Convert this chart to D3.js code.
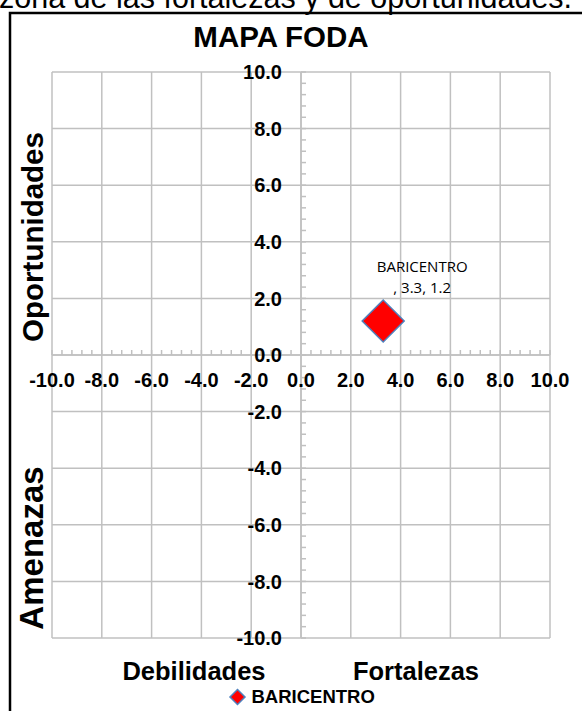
<!DOCTYPE html>
<html>
<head>
<meta charset="utf-8">
<script src="https://cdn.jsdelivr.net/npm/d3@7/dist/d3.min.js"></script>
<style>
  html, body { margin: 0; padding: 0; background: #fff; overflow: hidden; }
  svg { display: block; }
</style>
</head>
<body>
<svg id="chart" width="582" height="711"></svg>
<script>
// ---- data ----
const seriesNames = ["BARICENTRO"];
const xValues = [3.3];
const yValues = [1.2];
const xTickValues = [-10, -8, -6, -4, -2, 0, 2, 4, 6, 8, 10];
const yTickValues = [-10, -8, -6, -4, -2, 0, 2, 4, 6, 8, 10];
const minorStep = 0.4;
const chartTitle = "MAPA FODA";
const topText = "zona de las fortalezas y de  oportunidades.";
const quadrantLabels = ["Oportunidades", "Amenazas", "Debilidades", "Fortalezas"];

// ---- layout ----
const svg = d3.select("#chart");
const W = 582, H = 711;
const plot = { left: 52, right: 550, top: 72, bottom: 638 };
const x = d3.scaleLinear().domain([-10, 10]).range([plot.left, plot.right]);
const y = d3.scaleLinear().domain([-10, 10]).range([plot.bottom, plot.top]);
const gridColor = "#c0c0c0";
const fmt = v => v.toFixed(1);
const arial = "'Liberation Sans', Arial, sans-serif";

// cropped document text above the chart
svg.append("text")
  .attr("x", -1).attr("y", 8)
  .attr("font-family", arial).attr("font-size", 30.5)
  .attr("fill", "#000")
  .text(topText);

// chart border (extends past the window on right/bottom)
svg.append("path")
  .attr("d", `M10,${H + 5} V13 H${W + 5}`)
  .attr("fill", "none").attr("stroke", "#000").attr("stroke-width", 2.5);

// title
svg.append("text")
  .attr("x", 281).attr("y", 47)
  .attr("text-anchor", "middle")
  .attr("font-family", arial).attr("font-weight", "bold").attr("font-size", 29.5)
  .text(chartTitle);

// gridlines
const grid = svg.append("g").attr("stroke", gridColor).attr("stroke-width", 1.5);
grid.selectAll("line.v").data(xTickValues).join("line")
  .attr("class", "v")
  .attr("x1", d => x(d)).attr("x2", d => x(d))
  .attr("y1", plot.top).attr("y2", plot.bottom);
grid.selectAll("line.h").data(yTickValues).join("line")
  .attr("class", "h")
  .attr("y1", d => y(d)).attr("y2", d => y(d))
  .attr("x1", plot.left).attr("x2", plot.right);

// axes through origin with minor ticks
const minorX = d3.range(-10, 10 + 1e-9, minorStep);
const minorY = d3.range(-10, 10 + 1e-9, minorStep);
const axes = svg.append("g").attr("stroke", gridColor).attr("stroke-width", 1.5);
axes.append("line")
  .attr("x1", plot.left).attr("x2", plot.right)
  .attr("y1", y(0)).attr("y2", y(0));
axes.append("line")
  .attr("x1", x(0)).attr("x2", x(0))
  .attr("y1", plot.top).attr("y2", plot.bottom);
axes.selectAll("line.mx").data(minorX).join("line")
  .attr("class", "mx")
  .attr("x1", d => x(d)).attr("x2", d => x(d))
  .attr("y1", y(0)).attr("y2", y(0) - 5);
axes.selectAll("line.my").data(minorY).join("line")
  .attr("class", "my")
  .attr("y1", d => y(d)).attr("y2", d => y(d))
  .attr("x1", x(0)).attr("x2", x(0) + 5);

// tick labels
const labels = svg.append("g")
  .attr("font-family", arial).attr("font-weight", "bold").attr("font-size", 20)
  .attr("fill", "#000");
labels.selectAll("text.xl").data(xTickValues).join("text")
  .attr("class", "xl")
  .attr("x", d => x(d)).attr("y", 387)
  .attr("text-anchor", "middle")
  .text(fmt);
labels.selectAll("text.yl").data(yTickValues).join("text")
  .attr("class", "yl")
  .attr("x", x(0) - 19).attr("y", d => y(d))
  .attr("dy", "0.36em")
  .attr("text-anchor", "end")
  .text(fmt);

// quadrant titles
svg.append("text")
  .attr("transform", "translate(43,237) rotate(-90)")
  .attr("text-anchor", "middle")
  .attr("font-family", arial).attr("font-weight", "bold").attr("font-size", 29.5)
  .text(quadrantLabels[0]);
svg.append("text")
  .attr("transform", "translate(43,548) rotate(-90)")
  .attr("text-anchor", "middle")
  .attr("font-family", arial).attr("font-weight", "bold").attr("font-size", 33)
  .text(quadrantLabels[1]);
svg.append("text")
  .attr("x", 194).attr("y", 680)
  .attr("text-anchor", "middle")
  .attr("font-family", arial).attr("font-weight", "bold").attr("font-size", 25.5)
  .text(quadrantLabels[2]);
svg.append("text")
  .attr("x", 416).attr("y", 680)
  .attr("text-anchor", "middle")
  .attr("font-family", arial).attr("font-weight", "bold").attr("font-size", 25.5)
  .text(quadrantLabels[3]);

// data points
const points = seriesNames.map((n, i) => ({ name: n, x: xValues[i], y: yValues[i] }));
const diamond = d3.symbol().type(d3.symbolSquare).size(882);
svg.selectAll("path.pt").data(points).join("path")
  .attr("class", "pt")
  .attr("d", diamond)
  .attr("transform", d => `translate(${x(d.x)},${y(d.y)}) rotate(45)`)
  .attr("fill", "#ff0000").attr("stroke", "#4f81bd").attr("stroke-width", 1.5);

// data labels
const dl = svg.selectAll("text.dl").data(points).join("text")
  .attr("class", "dl")
  .attr("font-family", "'Open Sans', sans-serif").attr("font-size", 15)
  .attr("text-anchor", "middle")
  .attr("fill", "#000");
dl.append("tspan")
  .attr("x", d => x(d.x) + 39).attr("y", d => y(d.y) - 49)
  .text(d => d.name);
dl.append("tspan")
  .attr("x", d => x(d.x) + 39).attr("y", d => y(d.y) - 28)
  .text(d => `, ${d.x}, ${d.y}`);

// legend
const legendSym = d3.symbol().type(d3.symbolSquare).size(112);
const lg = svg.append("g").attr("transform", "translate(237.5,697)");
lg.append("path")
  .attr("d", legendSym)
  .attr("transform", "rotate(45)")
  .attr("fill", "#ff0000").attr("stroke", "#4f81bd").attr("stroke-width", 1.5);
lg.append("text")
  .attr("x", 14).attr("y", 6)
  .attr("font-family", arial).attr("font-weight", "bold").attr("font-size", 18.5)
  .text(seriesNames[0]);
</script>
</body>
</html>
